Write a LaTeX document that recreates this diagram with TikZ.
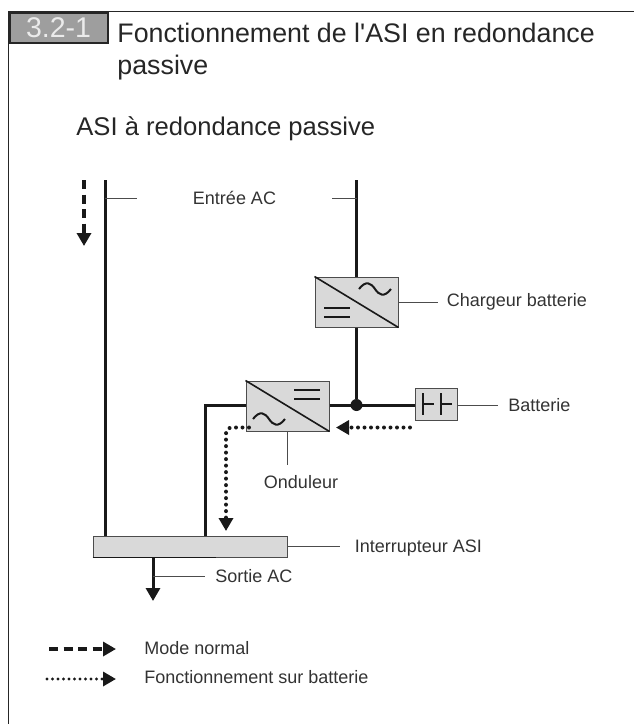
\documentclass[tikz,border=0pt]{standalone}
\usepackage{fontspec}
\setmainfont{Liberation Sans}
\usetikzlibrary{positioning, arrows.meta, calc}

\begin{document}
\begin{tikzpicture}[
    x=1pt, y=-1pt,
    node distance=10pt and 10pt,
    thick,
    % Node Styles
    heading/.style={anchor=west, align=left, inner sep=0pt, font=\fontsize{26.8}{32}\selectfont, text=black!85},
    numbox/.style={draw=black!85, line width=2pt, fill=black!38, text=white!92!black, inner sep=0pt, font=\fontsize{28.5}{29}\selectfont},
    tag/.style={inner sep=0pt, font=\fontsize{18}{21}\selectfont, text=black!80},
    conv/.style={rectangle, draw=black!70, line width=1pt, fill=black!15, minimum width=83pt, minimum height=50pt, inner sep=0pt},
    bus/.style={line width=3pt, black!90},
    lead/.style={line width=0.8pt, black!70},
    symb/.style={line width=1.6pt, black!90},
    tip/.style={-{Triangle[length=13pt, width=14pt]}},
    normal/.style={line width=3.4pt, black!90, dash pattern=on 9pt off 5.5pt, tip},
    onbatt/.style={line width=4pt, black!90, line cap=round, dash pattern=on 0pt off 6.5pt, rounded corners=6pt, tip},
    wave/.pic={\draw[symb, line width=2pt] (-16,0) .. controls (-9,-9) and (-4,-6) .. (0,0) .. controls (4,6) and (9,9) .. (16,0);},
    twolines/.pic={\draw[symb, line width=2pt] (-13,-4.5) -- (13,-4.5) (-13,4.5) -- (13,4.5);},
    cell/.pic={\draw[symb, line width=1.2pt] (0,-11) -- (0,11) (0,0) -- (11,0);}
]
\useasboundingbox (0,0) rectangle (634,724);

% --- Frame and headings ---
\draw[line width=0.8pt, black!85] (8,724) -- (8,11) -- (634,11);
\node[numbox, minimum width=98pt, minimum height=30pt] (num) at (58.5,28) {3.2-1};
\node[heading] (title) at (117,52) {Fonctionnement de l\textquotesingle ASI en redondance\\passive};
\node[heading, font=\fontsize{25.6}{30}\selectfont] (sub) at (76,129) {ASI à redondance passive};

% --- Boxes ---
\node[conv] (charger) at (356.5,302) {};
\node[conv] (inverter) at (287.5,406) {};
\node[conv, minimum width=42pt, minimum height=32pt] (battery) at (436.5,404) {};
\node[conv, minimum width=194pt, minimum height=21pt] (switch) at (190,546.5) {};
\draw[line width=1.4pt, black!90] (switch.south west) -- ++(123,0);

\draw[symb] (charger.north west) -- (charger.south east);
\draw[symb] (inverter.north west) -- (inverter.south east);
\pic at (375,289) {wave};
\pic at (337,312.5) {twolines};
\pic at (269,419) {wave};
\pic at (307,394.5) {twolines};
\pic at (423,404) {cell};
\pic at (441,404) {cell};

% --- Power lines ---
\coordinate (inA) at (105,180);
\coordinate (inB) at (356.5,180);
\coordinate (corner) at (205,405);
\coordinate (outEnd) at (153,601);
\node[circle, fill=black!90, minimum size=12pt, inner sep=0pt] (junction) at (356.5,405) {};

\draw[bus] (inA) -- (inA |- switch.north);
\draw[bus] (inB) -- (charger.north);
\draw[bus] (charger.south) -- (junction);
\draw[bus] (inverter.east |- junction) -- (battery.west |- junction);
\draw[bus] (inverter.west |- corner) -- (corner) -- (corner |- switch.north);
\draw[bus, tip] (outEnd |- switch.south) -- (outEnd);

% --- Flow arrows ---
\coordinate (flowTop) at (84,180);
\coordinate (flowEnd) at (84,246);
\coordinate (dotStart) at (249,427.5);
\coordinate (dotBend) at (226,427.5);
\coordinate (dotEnd) at (226,531);
\coordinate (battStart) at (410,427.5);
\coordinate (battEnd) at (336,427.5);

\draw[normal] (flowTop) -- (flowEnd);
\draw[onbatt] (dotStart) -- (dotBend) -- (dotEnd);
\draw[onbatt] (battStart) -- (battEnd);

% --- Leads and labels ---
\coordinate (entryA) at (137,198);
\coordinate (entryB) at (332,198);
\draw[lead] (inA |- entryA) -- (entryA);
\draw[lead] (inB |- entryB) -- (entryB);
\node[tag] (entry) at (234.5,198) {Entrée AC};

\coordinate[right=39pt of charger.east] (chargerEnd);
\draw[lead] (charger.east) -- (chargerEnd);
\node[tag, right=9pt of chargerEnd] (chargerTag) {Chargeur batterie};

\coordinate (batteryEnd) at (498,405);
\draw[lead] (battery.east |- batteryEnd) -- (batteryEnd);
\node[tag, right=10pt of batteryEnd] (batteryTag) {Batterie};

\coordinate[below=33pt of inverter.south] (inverterEnd);
\draw[lead] (inverter.south) -- (inverterEnd);
\node[tag, below=11pt of inverterEnd, xshift=13.5pt] (inverterTag) {Onduleur};

\coordinate[right=52pt of switch.east] (switchEnd);
\draw[lead] (switch.east) -- (switchEnd);
\node[tag, right=15pt of switchEnd, yshift=-1.5pt] (switchTag) {Interrupteur ASI};

\coordinate (outLead) at (205,576);
\draw[lead] (outEnd |- outLead) -- (outLead);
\node[tag, right=10pt of outLead] (outTag) {Sortie AC};

% --- Legend ---
\coordinate (keyA) at (49,649);
\coordinate (keyAEnd) at (116,649);
\coordinate (keyB) at (47,679);
\coordinate (keyBEnd) at (116,679);
\draw[normal] (keyA) -- (keyAEnd);
\draw[onbatt, line width=3.2pt, dash pattern=on 0pt off 5.5pt] (keyB) -- (keyBEnd);
\node[tag, right=28pt of keyAEnd, yshift=1pt] (keyATag) {Mode normal};
\node[tag, right=28pt of keyBEnd, yshift=2pt] (keyBTag) {Fonctionnement sur batterie};

\end{tikzpicture}
\end{document}
